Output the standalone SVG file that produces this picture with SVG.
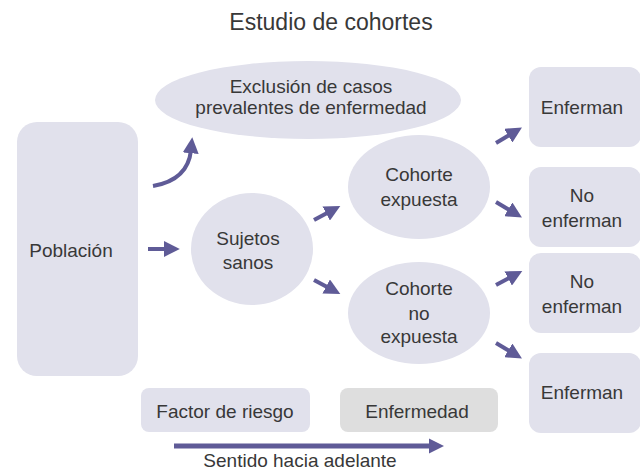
<svg xmlns="http://www.w3.org/2000/svg" width="640" height="470" viewBox="0 0 640 470">
<defs>
<style>
.n{fill:#e1e1ec}
.g{fill:#dedede}
text{font-family:"Liberation Sans",Arial,sans-serif;font-size:19px;fill:#383838;text-anchor:middle}
.t{font-size:23px}
.c{stroke:#5f5b97;stroke-width:4;fill:none}
</style>
<marker id="ah" viewBox="0 0 10 10" refX="2" refY="5" markerWidth="4" markerHeight="4" orient="auto" markerUnits="strokeWidth">
<path d="M0,0 L10,5 L0,10 Z" fill="#5f5b97"/>
</marker>
<marker id="ah2" viewBox="0 0 10 10" refX="2" refY="5" markerWidth="3" markerHeight="3.4" orient="auto" markerUnits="strokeWidth">
<path d="M0,0 L10,5 L0,10 Z" fill="#5f5b97"/>
</marker>
</defs>
<rect width="640" height="470" fill="#ffffff"/>
<text class="t" x="331" y="30">Estudio de cohortes</text>

<g id="exclusion"><ellipse class="n" cx="308" cy="100" rx="153" ry="39"/><text x="311" y="93">Exclusión de casos</text><text x="311" y="114">prevalentes de enfermedad</text></g>
<g id="poblacion"><rect class="n" x="17" y="122" width="121" height="254" rx="20"/><text x="71" y="257">Población</text></g>
<g id="sujetos"><ellipse class="n" cx="252" cy="249" rx="61" ry="56"/><text x="248" y="245">Sujetos</text><text x="248" y="269">sanos</text></g>
<g id="expuesta"><ellipse class="n" cx="419" cy="187" rx="71" ry="52"/><text x="419" y="181">Cohorte</text><text x="419" y="206">expuesta</text></g>
<g id="noexpuesta"><ellipse class="n" cx="419" cy="313" rx="71" ry="51"/><text x="419" y="295">Cohorte</text><text x="419" y="320">no</text><text x="419" y="343">expuesta</text></g>
<g id="enferman1"><rect class="n" x="529" y="67" width="112" height="80" rx="12"/><text x="582" y="114">Enferman</text></g>
<g id="noenferman1"><rect class="n" x="529" y="167" width="112" height="80" rx="12"/><text x="582" y="202">No</text><text x="582" y="227">enferman</text></g>
<g id="noenferman2"><rect class="n" x="529" y="253" width="112" height="80" rx="12"/><text x="582" y="288">No</text><text x="582" y="313">enferman</text></g>
<g id="enferman2"><rect class="n" x="529" y="353" width="112" height="80" rx="12"/><text x="582" y="399">Enferman</text></g>
<g id="factor"><rect class="n" x="141" y="388" width="169" height="44" rx="8"/><text x="225" y="418">Factor de riesgo</text></g>
<g id="enfermedad"><rect class="g" x="340" y="388" width="158" height="44" rx="8"/><text x="417" y="418">Enfermedad</text></g>
<g id="sentido"><text x="300" y="467">Sentido hacia adelante</text></g>

<g id="connectors">
<path class="c" d="M153,186 Q188,180 191,150" marker-end="url(#ah)"/>
<path class="c" d="M148,249 L167,249" marker-end="url(#ah)"/>
<path class="c" d="M314,220 L329,212" marker-end="url(#ah)"/>
<path class="c" d="M314,280 L329,288" marker-end="url(#ah)"/>
<path class="c" d="M496,143 L511,134" marker-end="url(#ah)"/>
<path class="c" d="M496,202 L511,211" marker-end="url(#ah)"/>
<path class="c" d="M496,285 L511,277" marker-end="url(#ah)"/>
<path class="c" d="M496,343 L511,352" marker-end="url(#ah)"/>
<path d="M174,446 L432,446" stroke="#5f5b97" stroke-width="5" fill="none" marker-end="url(#ah2)"/>
</g>
</svg>
